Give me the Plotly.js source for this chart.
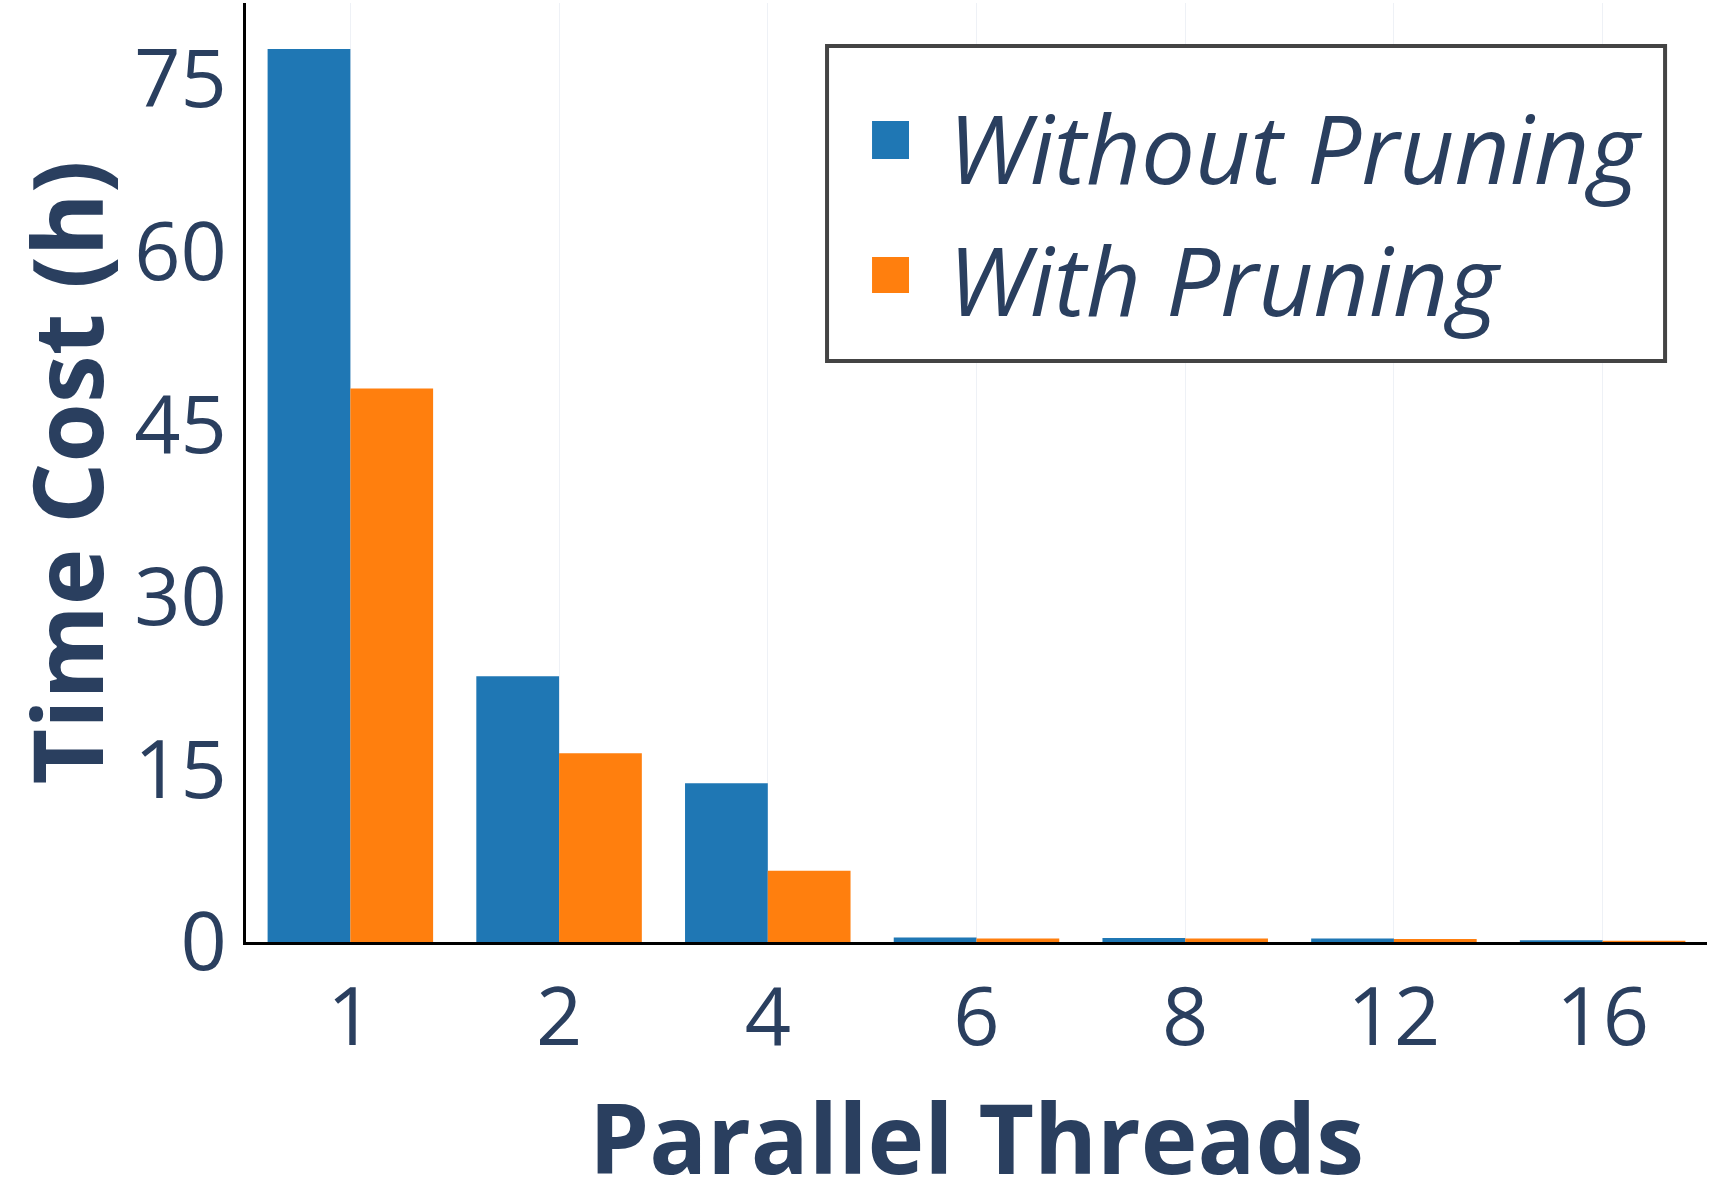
<!DOCTYPE html>
<html>
<head>
<meta charset="utf-8">
<script src="https://cdn.plot.ly/plotly-3.0.1.min.js"></script>
<style>
  html, body { margin: 0; padding: 0; background: #fff; }
  #plot { width: 1729px; height: 1193px; }
</style>
</head>
<body>
<div id="plot"></div>
<script>
// thread counts and time cost in hours
const threads = ['1', '2', '4', '6', '8', '12', '16'];
const withoutPruning = [77.6, 23.1, 13.8, 0.4, 0.35, 0.3, 0.15];
const withPruning = [48.1, 16.4, 6.2, 0.3, 0.3, 0.25, 0.1];
const seriesNames = ['Without Pruning', 'With Pruning'];
const seriesColors = ['#1f77b4', '#ff7f0e'];
const yTicks = [0, 15, 30, 45, 60, 75];

const textColor = '#2a3f5f';
const font = 'Open Sans, sans-serif';

const traces = [withoutPruning, withPruning].map(function (vals, i) {
  return {
    type: 'bar',
    name: seriesNames[i],
    x: threads,
    y: vals,
    marker: {color: seriesColors[i]},
    showlegend: false
  };
});

// legend drawn by hand so the colour swatches can be as large as in the original
const legendShapes = [
  {type: 'rect', xref: 'paper', yref: 'paper', x0: 0.3977, x1: 0.9713, y0: 0.6187, y1: 0.9542,
   line: {color: '#444', width: 4}, fillcolor: '#fff', layer: 'above'},
  {type: 'rect', xref: 'paper', yref: 'paper', x0: 0.4285, x1: 0.4538, y0: 0.8339, y1: 0.8743,
   line: {width: 0}, fillcolor: seriesColors[0], layer: 'above'},
  {type: 'rect', xref: 'paper', yref: 'paper', x0: 0.4285, x1: 0.4538, y0: 0.6912, y1: 0.7295,
   line: {width: 0}, fillcolor: seriesColors[1], layer: 'above'}
];
const legendText = [0.8477, 0.7071].map(function (yy, i) {
  return {
    xref: 'paper', yref: 'paper', x: 0.4791, y: yy,
    xanchor: 'left', yanchor: 'middle', showarrow: false,
    text: seriesNames[i],
    font: {family: font, size: 96, color: textColor, style: 'italic'}
  };
});

// x title as an annotation: the axis title can't sit low enough inside the margin
const xTitle = {
  xref: 'paper', yref: 'paper', x: 0.5, y: -0.207,
  xanchor: 'center', yanchor: 'middle', showarrow: false,
  text: 'Parallel Threads',
  font: {family: font, size: 96, color: textColor, weight: 'bold'}
};

const layout = {
  width: 1729,
  height: 1193,
  margin: {l: 246, r: 22, t: 3, b: 251},
  paper_bgcolor: '#fff',
  plot_bgcolor: '#fff',
  barmode: 'group',
  bargap: 0.207,
  bargroupgap: 0,
  font: {family: font, color: textColor},
  xaxis: {
    type: 'category',
    showline: true, linecolor: '#000', linewidth: 3,
    showgrid: true, gridcolor: '#eef1f6', gridwidth: 1,
    ticks: '', ticklabelstandoff: 3,
    tickfont: {family: font, size: 81, color: textColor},
    zeroline: false
  },
  yaxis: {
    range: [0, 81.6],
    tickvals: yTicks,
    showline: true, linecolor: '#000', linewidth: 3,
    showgrid: false, zeroline: false,
    ticks: '', ticklabelstandoff: 0,
    tickfont: {family: font, size: 81, color: textColor},
    title: {text: 'Time Cost (h)', standoff: 35,
            font: {family: font, size: 96, color: textColor, weight: 'bold'}}
  },
  shapes: legendShapes,
  annotations: legendText.concat([xTitle]),
  showlegend: false
};

Plotly.newPlot('plot', traces, layout, {displayModeBar: false, staticPlot: true});
</script>
</body>
</html>
